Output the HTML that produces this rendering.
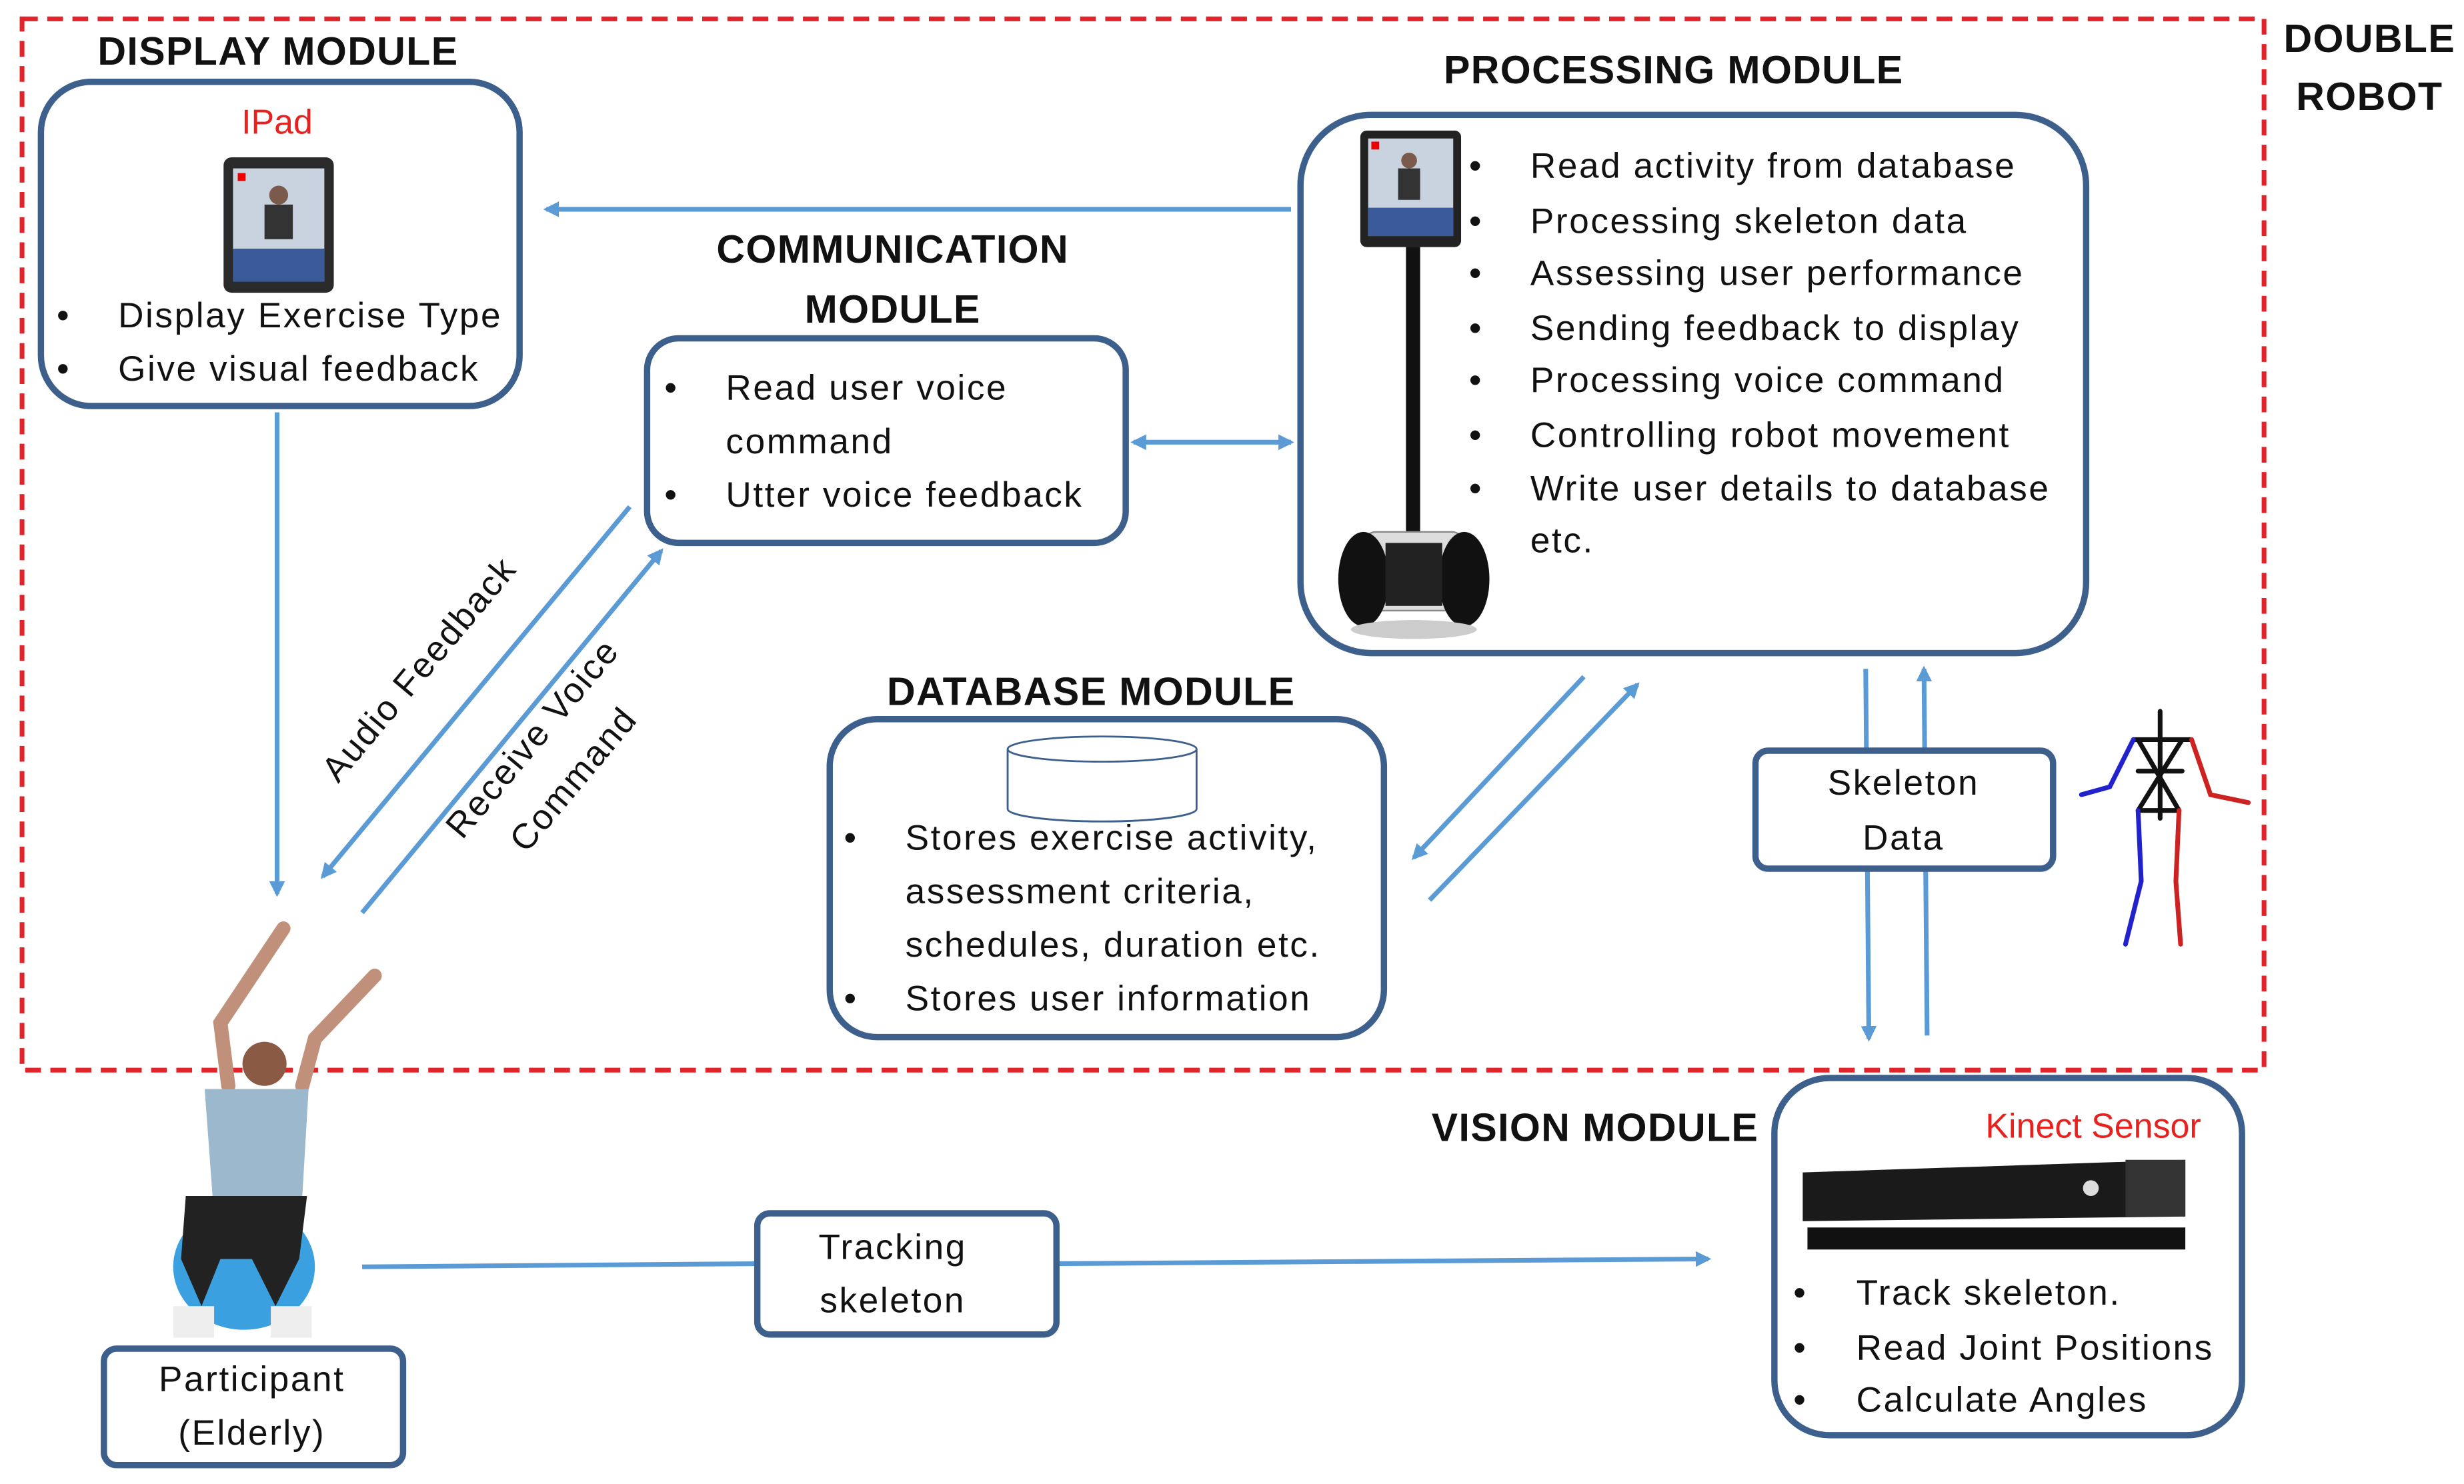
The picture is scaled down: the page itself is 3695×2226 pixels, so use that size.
<!DOCTYPE html>
<html><head><meta charset="utf-8"><style>
html,body{margin:0;padding:0;background:#fff;width:3695px;height:2226px;overflow:hidden}
svg{display:block}
text{font-family:"Liberation Sans",sans-serif}
.b{font-weight:bold;font-size:25px;fill:#111;letter-spacing:0.6px}
.t{font-size:22.5px;fill:#111;letter-spacing:1.1px}
.box{fill:#fff;stroke:#3d5f8c;stroke-width:4}
.ar{stroke:#5b9bd5;stroke-width:3;fill:none}
</style></head><body>
<svg width="3695" height="2226" viewBox="0 0 1565 943" preserveAspectRatio="none" xmlns="http://www.w3.org/2000/svg">
<defs>
<marker id="ah" markerWidth="10" markerHeight="10" refX="8" refY="5" orient="auto" markerUnits="userSpaceOnUse"><path d="M0,0 L10,5 L0,10 z" fill="#5b9bd5"/></marker>
<marker id="as" markerWidth="10" markerHeight="10" refX="2" refY="5" orient="auto" markerUnits="userSpaceOnUse"><path d="M10,0 L0,5 L10,10 z" fill="#5b9bd5"/></marker>
</defs>
<rect x="14" y="12" width="1424" height="668" fill="none" stroke="#e0242a" stroke-width="3" stroke-dasharray="10,6"/>
<text class="b" x="1505" y="33" text-anchor="middle">DOUBLE</text>
<text class="b" x="1505" y="70" text-anchor="middle">ROBOT</text>

<!-- arrows -->
<line class="ar" x1="820" y1="133" x2="347" y2="133" marker-end="url(#ah)"/>
<line class="ar" x1="176" y1="262" x2="176" y2="568" marker-end="url(#ah)"/>
<line class="ar" x1="400" y1="322" x2="205" y2="557" marker-end="url(#ah)"/>
<line class="ar" x1="230" y1="580" x2="420" y2="350" marker-end="url(#ah)"/>
<line class="ar" x1="720" y1="281" x2="820" y2="281" marker-start="url(#as)" marker-end="url(#ah)"/>
<line class="ar" x1="1006" y1="430" x2="898" y2="545" marker-end="url(#ah)"/>
<line class="ar" x1="908" y1="572" x2="1040" y2="435" marker-end="url(#ah)"/>
<line class="ar" x1="1185" y1="425" x2="1187" y2="660" marker-end="url(#ah)"/>
<line class="ar" x1="1224" y1="658" x2="1222" y2="425" marker-end="url(#ah)"/>
<line class="ar" x1="230" y1="805" x2="481" y2="803"/>
<line class="ar" x1="671" y1="803" x2="1085" y2="800" marker-end="url(#ah)"/>

<text class="t" transform="translate(272,430) rotate(-50)" text-anchor="middle">Audio Feedback</text>
<text class="t" transform="translate(344,474) rotate(-50)" text-anchor="middle">Receive Voice</text>
<text class="t" transform="translate(370,500) rotate(-50)" text-anchor="middle">Command</text>

<!-- Display -->
<text class="b" x="62" y="41">DISPLAY MODULE</text>
<rect class="box" x="26" y="52" width="304" height="206" rx="32"/>
<text x="176" y="85" text-anchor="middle" style="font-size:22px;fill:#e8201e">IPad</text>
<rect x="142" y="100" width="70" height="86" rx="5" fill="#2a2a2a"/>
<rect x="148" y="107" width="58" height="72" fill="#c9d3e0"/>
<rect x="148" y="158" width="58" height="21" fill="#3a5a9a"/>
<circle cx="177" cy="124" r="6" fill="#7a5a4a"/><rect x="168" y="130" width="18" height="22" fill="#333"/>
<rect x="151" y="110" width="5" height="5" fill="#e00"/>
<text class="t" x="36" y="208">•</text><text class="t" x="75" y="208">Display Exercise Type</text>
<text class="t" x="36" y="242">•</text><text class="t" x="75" y="242">Give visual feedback</text>

<!-- Communication -->
<text class="b" x="567" y="167" text-anchor="middle">COMMUNICATION</text>
<text class="b" x="567" y="205" text-anchor="middle">MODULE</text>
<rect class="box" x="411" y="215" width="304" height="130" rx="20"/>
<text class="t" x="422" y="254">•</text><text class="t" x="461" y="254">Read user voice</text>
<text class="t" x="461" y="288">command</text>
<text class="t" x="422" y="322">•</text><text class="t" x="461" y="322">Utter voice feedback</text>

<!-- Processing -->
<text class="b" x="1063" y="53" text-anchor="middle">PROCESSING MODULE</text>
<rect class="box" x="826" y="73" width="499" height="342" rx="45"/>
<rect x="864" y="83" width="64" height="74" rx="4" fill="#222"/>
<rect x="869" y="88" width="54" height="62" fill="#c9d3e0"/>
<rect x="869" y="132" width="54" height="18" fill="#3a5a9a"/>
<circle cx="895" cy="102" r="5" fill="#7a5a4a"/><rect x="888" y="107" width="14" height="20" fill="#333"/>
<rect x="871" y="90" width="5" height="5" fill="#e00"/>
<rect x="893" y="157" width="9" height="190" fill="#111"/>
<rect x="866" y="338" width="64" height="50" rx="8" fill="#ddd" stroke="#888"/>
<ellipse cx="866" cy="368" rx="16" ry="30" fill="#111"/>
<ellipse cx="930" cy="368" rx="16" ry="30" fill="#111"/>
<rect x="880" y="345" width="36" height="40" fill="#222"/>
<ellipse cx="898" cy="400" rx="40" ry="6" fill="#ccc"/>
<text class="t" x="933" y="113">•</text><text class="t" x="972" y="113">Read activity from database</text>
<text class="t" x="933" y="148">•</text><text class="t" x="972" y="148">Processing skeleton data</text>
<text class="t" x="933" y="181">•</text><text class="t" x="972" y="181">Assessing user performance</text>
<text class="t" x="933" y="216">•</text><text class="t" x="972" y="216">Sending feedback to display</text>
<text class="t" x="933" y="249">•</text><text class="t" x="972" y="249">Processing voice command</text>
<text class="t" x="933" y="284">•</text><text class="t" x="972" y="284">Controlling robot movement</text>
<text class="t" x="933" y="318">•</text><text class="t" x="972" y="318">Write user details to database</text>
<text class="t" x="972" y="351">etc.</text>

<!-- Database -->
<text class="b" x="693" y="448" text-anchor="middle">DATABASE MODULE</text>
<rect class="box" x="527" y="457" width="352" height="202" rx="30"/>
<path d="M640,476 L640,514 A60,8 0 0 0 760,514 L760,476" fill="#fff" stroke="#3d5f8c" stroke-width="1.2"/>
<ellipse cx="700" cy="476" rx="60" ry="8" fill="#fff" stroke="#3d5f8c" stroke-width="1.2"/>
<text class="t" x="536" y="540">•</text><text class="t" x="575" y="540">Stores exercise activity,</text>
<text class="t" x="575" y="574">assessment criteria,</text>
<text class="t" x="575" y="608">schedules, duration etc.</text>
<text class="t" x="536" y="642">•</text><text class="t" x="575" y="642">Stores user information</text>

<!-- Skeleton data -->
<rect class="box" x="1115" y="477" width="189" height="75" rx="8"/>
<text class="t" x="1209" y="505" text-anchor="middle">Skeleton</text>
<text class="t" x="1209" y="540" text-anchor="middle">Data</text>
<g stroke-width="3" fill="none" stroke-linecap="round">
<path d="M1372,452 L1372,520" stroke="#111"/>
<path d="M1355,470 L1392,470 M1358,490 L1386,490 M1358,470 L1384,515 M1386,470 L1358,515 M1358,515 L1384,515" stroke="#111"/>
<path d="M1355,470 L1340,500 L1322,505" stroke="#2222cc"/>
<path d="M1392,470 L1404,505 L1428,510" stroke="#cc2222"/>
<path d="M1358,515 L1360,560 L1350,600" stroke="#2222cc"/>
<path d="M1384,515 L1382,560 L1385,600" stroke="#cc2222"/>
</g>

<!-- Vision -->
<text class="b" x="1117" y="725" text-anchor="end">VISION MODULE</text>
<rect class="box" x="1127" y="685" width="297" height="227" rx="35"/>
<text x="1398" y="723" text-anchor="end" style="font-size:22px;fill:#e8201e">Kinect Sensor</text>
<path d="M1145,745 L1388,737 L1388,773 L1145,776 z" fill="#1a1a1a"/>
<rect x="1350" y="737" width="38" height="36" fill="#333"/>
<rect x="1148" y="780" width="240" height="14" fill="#111"/>
<circle cx="1328" cy="755" r="5" fill="#ddd"/>
<text class="t" x="1139" y="829">•</text><text class="t" x="1179" y="829">Track skeleton.</text>
<text class="t" x="1139" y="864">•</text><text class="t" x="1179" y="864">Read Joint Positions</text>
<text class="t" x="1139" y="897">•</text><text class="t" x="1179" y="897">Calculate Angles</text>

<!-- Tracking -->
<rect class="box" x="481" y="771" width="190" height="77" rx="8"/>
<text class="t" x="567" y="800" text-anchor="middle">Tracking</text>
<text class="t" x="567" y="834" text-anchor="middle">skeleton</text>

<!-- Person -->
<g>
<path d="M145,690 L140,650 L160,620 L180,590" stroke="#c0907a" stroke-width="9" fill="none" stroke-linecap="round"/>
<path d="M192,690 L200,660 L238,620" stroke="#c0907a" stroke-width="9" fill="none" stroke-linecap="round"/>
<circle cx="168" cy="676" r="14" fill="#8a5a44"/>
<path d="M130,692 L196,692 L192,760 L135,760 z" fill="#9cb8cc"/>
<ellipse cx="155" cy="805" rx="45" ry="40" fill="#3aa0e0"/>
<path d="M118,760 L195,760 L190,800 L175,830 L160,800 L140,800 L128,830 L115,800 z" fill="#222"/>
<rect x="110" y="830" width="26" height="20" fill="#eee"/>
<rect x="172" y="830" width="26" height="20" fill="#eee"/>
</g>
<rect class="box" x="66" y="857" width="190" height="74" rx="8"/>
<text class="t" x="160" y="884" text-anchor="middle">Participant</text>
<text class="t" x="160" y="918" text-anchor="middle">(Elderly)</text>
</svg>
</body></html>
